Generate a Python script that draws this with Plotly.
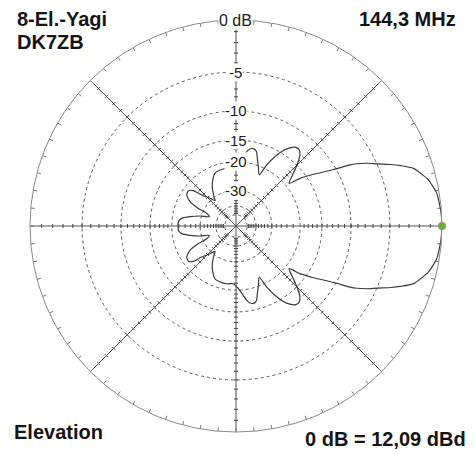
import numpy as np
import plotly.graph_objects as go

# ---- data (upper half, pattern is symmetric) ----
theta_upper = [0, 3.5, 5.4, 9.3, 13.5, 18, 20.2, 21.6, 23.8, 25.6, 27.2, 28.2, 30.0,
               33.7, 36.7, 38.8,
               42.6, 45.5, 48.0, 50.2, 52.7, 55.4, 57.9, 60.6, 63.3, 65.5,
               69.4, 72.5, 74.5, 76.8, 79.7, 81.8, 84.0,
               88.0, 92.6, 99.2, 105.9, 111.7, 116.9, 122.1, 126.9, 129.5,
               133.2, 137.9, 140.4, 143.5, 147.9, 152.1, 154.9, 156.6, 160.7,
               164.5, 168.5, 172.0, 175.7, 180]
db_upper = [0, -0.04, -0.09, -0.22, -0.7, -1.7, -2.8, -3.6, -5.0, -6.0, -7.1, -8.0, -10.3,
            -13.6, -16.3, -19.0,
            -16.7, -14.6, -13.2, -12.6, -12.6, -13.3, -14.4, -16.3, -19.0, -22.3,
            -20.2, -18.3, -16.9, -16.4, -16.6, -17.3, -18.6,
            -20.5, -21.8, -21.6, -21.7, -22.1, -23.8, -26.3, -29.6, -31.5,
            -29.0, -25.6, -22.5, -21.4, -21.7, -23.6, -27.5, -32.0, -34.1,
            -29.3, -25.4, -22.7, -21.8, -21.8]

ring_db = [-5, -10, -15, -20, -30, -40, -50]
ring_label_db = [-5, -10, -15, -20, -30]
ring_labels = ["-5", "-10", "-15", "-20", "-30"]
spoke_angles = [0, 45, 90, 135, 180, 225, 270, 315]
tick_db = list(range(-1, -20, -1)) + list(range(-22, -50, -2))
rim_tick_angles = list(range(0, 360, 5))

title_left = ["8-El.-Yagi", "DK7ZB"]
title_right = "144,3 MHz"
label_bottom_left = "Elevation"
label_bottom_right = "0 dB = 12,09 dBd"
label_top = "0 dB"


def to_r(db):
    # ARRL log scale: radius falls to 0.89 for every 2 dB
    return 0.89 ** (-np.asarray(db, dtype=float) / 2.0)


W, H = 475, 454
cx_px, cy_px, R_px = 236, 226, 206

theta = theta_upper + [360 - t for t in reversed(theta_upper[:-1])]
db = db_upper + list(reversed(db_upper[:-1]))
r = to_r(db)

# rim ticks (inward)
rim_r, rim_t = [], []
for a in rim_tick_angles:
    rim_r += [1 - 4.0 / R_px, 1.0, None]
    rim_t += [a, a, None]

# spoke ticks (perpendicular to spokes)
sp_r, sp_t = [], []
h = 2.0 / R_px
for s in spoke_angles:
    for d in tick_db:
        rr = float(to_r(d))
        r2 = np.hypot(rr, h)
        dd = np.degrees(np.arctan2(h, rr))
        sp_r += [r2, r2, None]
        sp_t += [s - dd, s + dd, None]

fig = go.Figure()
fig.add_trace(go.Scatterpolar(r=rim_r, theta=rim_t, mode="lines",
                              line=dict(color="#777777", width=1), hoverinfo="skip",
                              showlegend=False))
fig.add_trace(go.Scatterpolar(r=sp_r, theta=sp_t, mode="lines",
                              line=dict(color="#444444", width=1), hoverinfo="skip",
                              showlegend=False))
fig.add_trace(go.Scatterpolar(r=r, theta=theta, mode="lines",
                              line=dict(color="#3a3a3a", width=1.2, shape="spline", smoothing=0.6),
                              showlegend=False))
fig.add_trace(go.Scatterpolar(r=[1.0], theta=[0], mode="markers",
                              marker=dict(size=7, color="#3cc83c",
                                          line=dict(color="#c8843c", width=1.2)),
                              showlegend=False))

x0, x1 = (cx_px - R_px) / W, (cx_px + R_px) / W
y0, y1 = (H - (cy_px + R_px)) / H, (H - (cy_px - R_px)) / H

fig.update_layout(
    width=W, height=H, margin=dict(l=0, r=0, t=0, b=0),
    paper_bgcolor="white", plot_bgcolor="white",
    polar=dict(
        domain=dict(x=[x0, x1], y=[y0, y1]),
        bgcolor="white",
        radialaxis=dict(range=[0, 1], tickmode="array", tickvals=list(to_r(ring_db)),
                        showticklabels=False, ticks="", showline=False,
                        showgrid=True, gridcolor="#5a5a5a", gridwidth=1, griddash="3px,3px"),
        angularaxis=dict(tickmode="array", tickvals=spoke_angles, showticklabels=False,
                         ticks="", showline=True, linecolor="#888888", linewidth=1,
                         showgrid=True, gridcolor="#555555", gridwidth=1,
                         rotation=0, direction="counterclockwise"),
    ),
    font=dict(family="Arial, Liberation Sans, sans-serif"),
)

cx, cy = (x0 + x1) / 2, (y0 + y1) / 2
Ry = (y1 - y0) / 2
ann = []
for d, t in zip(ring_label_db, ring_labels):
    ann.append(dict(x=cx, y=cy + float(to_r(d)) * Ry, xref="paper", yref="paper",
                    text=t, showarrow=False, xanchor="center", yanchor="middle",
                    bgcolor="white", borderpad=0,
                    font=dict(size=15, color="#1a1a1a")))
ann.append(dict(x=cx, y=cy + Ry, xref="paper", yref="paper", text=label_top,
                showarrow=False, xanchor="center", yanchor="middle", bgcolor="white",
                borderpad=0, font=dict(size=16, color="#1a1a1a")))

bold = dict(size=20, color="#141414")
ann.append(dict(x=15 / W, y=1 - 19 / H, xref="paper", yref="paper", text="<b>%s</b>" % title_left[0],
                showarrow=False, xanchor="left", yanchor="middle", font=bold))
ann.append(dict(x=15 / W, y=1 - 42 / H, xref="paper", yref="paper", text="<b>%s</b>" % title_left[1],
                showarrow=False, xanchor="left", yanchor="middle", font=bold))
ann.append(dict(x=458 / W, y=1 - 19.5 / H, xref="paper", yref="paper", text="<b>%s</b>" % title_right,
                showarrow=False, xanchor="right", yanchor="middle", font=bold))
ann.append(dict(x=12 / W, y=1 - 432 / H, xref="paper", yref="paper", text="<b>%s</b>" % label_bottom_left,
                showarrow=False, xanchor="left", yanchor="middle", font=bold))
ann.append(dict(x=468 / W, y=1 - 439 / H, xref="paper", yref="paper", text="<b>%s</b>" % label_bottom_right,
                showarrow=False, xanchor="right", yanchor="middle", font=bold))
fig.update_layout(annotations=ann)

fig.write_html("out.html",
               config={"displayModeBar": False},
               post_script="document.body.style.margin='0';document.body.style.padding='0';"
                           "document.body.style.overflow='hidden';")
